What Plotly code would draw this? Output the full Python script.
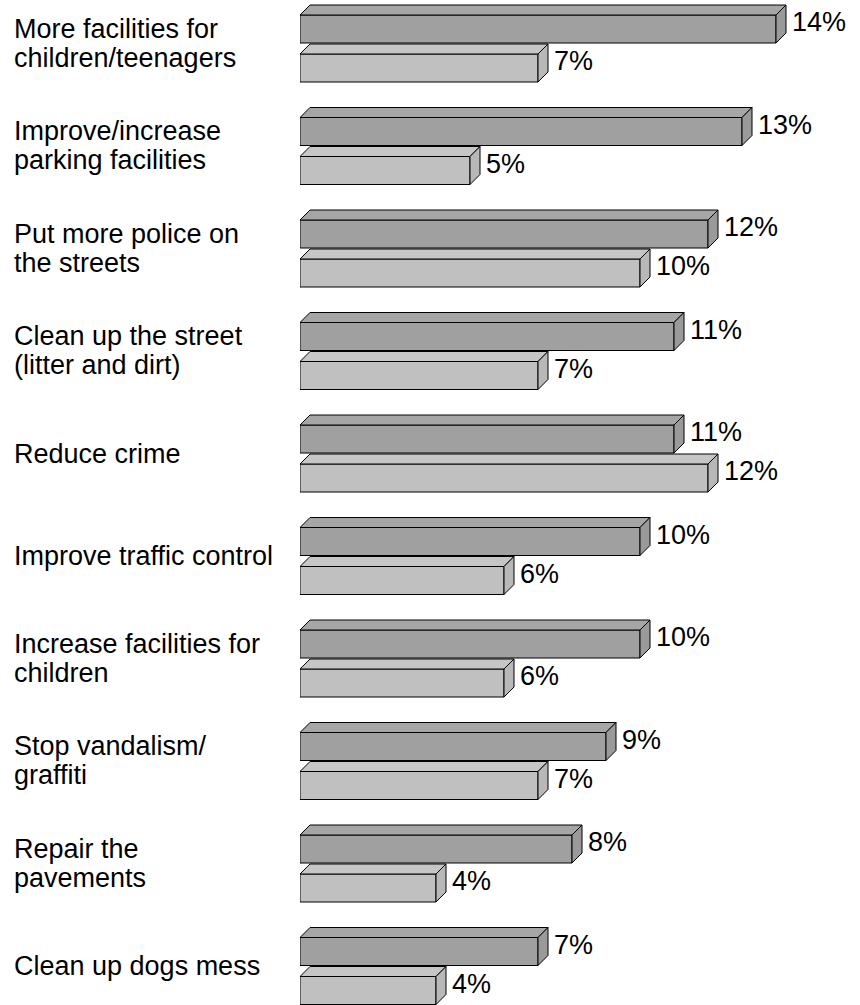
import plotly.graph_objects as go

# ---------------- data ----------------
categories = [
    "More facilities for\nchildren/teenagers",
    "Improve/increase\nparking facilities",
    "Put more police on\nthe streets",
    "Clean up the street\n(litter and dirt)",
    "Reduce crime",
    "Improve traffic control",
    "Increase facilities for\nchildren",
    "Stop vandalism/\ngraffiti",
    "Repair the\npavements",
    "Clean up dogs mess",
]
series_dark = [14, 13, 12, 11, 11, 10, 10, 9, 8, 7]
series_light = [7, 5, 10, 7, 12, 6, 6, 7, 4, 4]

# ---------------- layout constants ----------------
W, H = 860, 1005
LEFT = 300
PX_PER_UNIT_X = 34.0
PITCH = 102.5           # px per category
CENTER0 = 48.5          # px of first category centre
BAR_PX = 28.0
OFF_PX = 19.5
DEPTH_PX = 10.0
FONT = "Liberation Sans, Arial, sans-serif"
FS = 27

xr = (W - LEFT) / PX_PER_UNIT_X
yr = [(H - CENTER0) / PITCH, -CENTER0 / PITCH]
bw = BAR_PX / PITCH
off = OFF_PX / PITCH
dx = DEPTH_PX / PX_PER_UNIT_X
dy = DEPTH_PX / PITCH

idx = list(range(len(categories)))

fig = go.Figure()


def add_series(vals, sign, front, top, side):
    ys = [i + sign * off for i in idx]
    fig.add_trace(go.Bar(
        x=vals, y=ys, orientation="h", width=bw,
        marker=dict(color=front, line=dict(color="black", width=1)),
        hoverinfo="skip", showlegend=False,
    ))
    tx, ty, sx, sy = [], [], [], []
    for v, y in zip(vals, ys):
        yt = y - bw / 2
        yb = y + bw / 2
        tx += [0, v, v + dx, dx, 0, None]
        ty += [yt, yt, yt - dy, yt - dy, yt, None]
        sx += [v, v + dx, v + dx, v, v, None]
        sy += [yt, yt - dy, yb - dy, yb, yt, None]
    for px, py, col in ((tx, ty, top), (sx, sy, side)):
        fig.add_trace(go.Scatter(
            x=px, y=py, mode="lines", fill="toself", fillcolor=col,
            line=dict(color="black", width=1),
            hoverinfo="skip", showlegend=False,
        ))
    for v, y in zip(vals, ys):
        fig.add_annotation(
            x=v, y=y, xref="x", yref="y", text=f"{v}%",
            showarrow=False, xanchor="left", yanchor="middle",
            xshift=DEPTH_PX + 4, yshift=7,
            font=dict(family=FONT, size=FS, color="black"),
        )


add_series(series_dark, -1, "#a0a0a0", "#a6a6a6", "#9a9a9a")
add_series(series_light, 1, "#c0c0c0", "#c6c6c6", "#b8b8b8")

# category labels (one annotation per line for tight line spacing)
for i, cat in zip(idx, categories):
    lines = cat.split("\n")
    if len(lines) == 1:
        shifts = [5]
    else:
        shifts = [20, -9]
    for line, s in zip(lines, shifts):
        fig.add_annotation(
            x=(12 - LEFT) / (W - LEFT), y=i, xref="paper", yref="y",
            text=line, showarrow=False, xanchor="left", yanchor="middle",
            yshift=s, font=dict(family=FONT, size=FS, color="black"),
        )

fig.update_layout(
    width=W, height=H,
    margin=dict(l=LEFT, r=0, t=0, b=0),
    paper_bgcolor="white", plot_bgcolor="white",
    barmode="overlay",
    xaxis=dict(range=[0, xr], visible=False, fixedrange=True),
    yaxis=dict(range=yr, visible=False, fixedrange=True),
    showlegend=False,
)

fig.write_html("out.html")
